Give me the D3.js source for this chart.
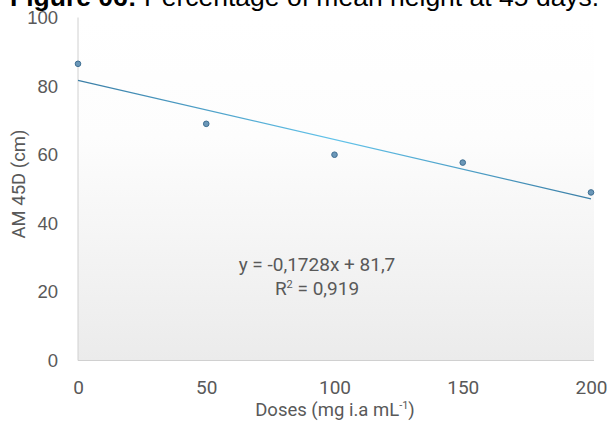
<!DOCTYPE html>
<html><head><meta charset="utf-8">
<script src="https://cdn.jsdelivr.net/npm/d3@7"></script>
<style>body{margin:0;background:#fff}svg{display:block}</style>
</head><body>
<script>
const doses = [0, 50, 100, 150, 200];
const heights = [86.5, 69, 60, 57.7, 49];
const xTicks = [0, 50, 100, 150, 200];
const yTicks = [0, 20, 40, 60, 80, 100];
const slope = -0.1728, intercept = 81.7;
const eqLabel = "y = -0,1728x + 81,7";
const r2Label = " = 0,919";

const W = 609, H = 421;
const svg = d3.select("body").append("svg").attr("width", W).attr("height", H);
const x = d3.scaleLinear().domain([0, 200]).range([78, 591]);
const y = d3.scaleLinear().domain([0, 100]).range([360.5, 17.5]);

const defs = svg.append("defs");
const bg = defs.append("linearGradient").attr("id","bg").attr("x1",0).attr("y1",0).attr("x2",0).attr("y2",1);
bg.append("stop").attr("offset","0%").attr("stop-color","#ffffff");
bg.append("stop").attr("offset","35%").attr("stop-color","#fdfdfd");
bg.append("stop").attr("offset","100%").attr("stop-color","#ebebeb");
const lg = defs.append("linearGradient").attr("id","tl").attr("gradientUnits","userSpaceOnUse")
  .attr("x1", x(0)).attr("y1", 0).attr("x2", x(200)).attr("y2", 0);
lg.append("stop").attr("offset","0%").attr("stop-color","#3b7ea6");
lg.append("stop").attr("offset","50%").attr("stop-color","#62c3ea");
lg.append("stop").attr("offset","100%").attr("stop-color","#3b7ea6");

// plot background
svg.append("rect").attr("x", x(0)).attr("y", y(100)).attr("width", x(200) + 3 - x(0)).attr("height", y(0) - y(100))
  .attr("fill", "url(#bg)");

// title (cut off at top, as in the source figure)
const title = svg.append("text").attr("x", 10).attr("y", 6).attr("font-family","Liberation Sans, Arial, sans-serif")
  .attr("font-size", 26.5).attr("fill", "#000");
title.append("tspan").attr("font-weight","bold").text("Figure 06:");
title.append("tspan").text(" Percentage of mean height at 45 days.");

// axes lines
svg.append("line").attr("x1", x(0)).attr("x2", x(0)).attr("y1", y(100)).attr("y2", y(0)).attr("stroke","#d0d0d0");
svg.append("line").attr("x1", x(0)).attr("x2", x(200)+3).attr("y1", y(0)).attr("y2", y(0)).attr("stroke","#d0d0d0");

// y ticks
const yAxis = d3.axisLeft(y).tickValues(yTicks).tickSize(0).tickPadding(20);
const gy = svg.append("g").attr("transform", `translate(${x(0)},0)`).call(yAxis);
gy.select(".domain").remove();
gy.selectAll("text").attr("font-family","Liberation Sans, Arial, sans-serif").attr("font-size", 18.5).attr("fill","#595959");

// x ticks
const xAxis = d3.axisBottom(x).tickValues(xTicks).tickSize(0).tickPadding(0);
const gx = svg.append("g").attr("transform", `translate(0,${y(0)+20})`).call(xAxis);
gx.select(".domain").remove();
gx.selectAll("text").attr("font-family","Roboto, sans-serif").attr("font-size", 19).attr("fill","#595959").attr("dy","0.71em");

// axis titles
const xt = svg.append("text").attr("x", 335).attr("y", 416).attr("text-anchor","middle")
  .attr("font-family","Roboto, sans-serif").attr("font-size", 18.5).attr("fill","#595959");
xt.append("tspan").text("Doses (mg i.a mL");
xt.append("tspan").attr("font-size", 11).attr("dy", -7).text("-1");
xt.append("tspan").attr("dy", 7).text(")");

svg.append("text").attr("transform", `translate(25,184) rotate(-90)`).attr("text-anchor","middle")
  .attr("font-family","Roboto, sans-serif").attr("font-size", 18.5).attr("fill","#595959").text("AM 45D (cm)");

// trendline
svg.append("line").attr("x1", x(0)).attr("y1", y(intercept)).attr("x2", x(200)).attr("y2", y(intercept + slope*200))
  .attr("stroke","url(#tl)").attr("stroke-width", 1.3);

// points
svg.selectAll("circle.pt").data(doses.map((d,i)=>[d, heights[i]])).join("circle").attr("class","pt")
  .attr("cx", d=>x(d[0])).attr("cy", d=>y(d[1])).attr("r", 2.8)
  .attr("fill","#6b97b8").attr("stroke","#3e6e92").attr("stroke-width", 1);

// equation
svg.append("text").attr("x", 317).attr("y", 271).attr("text-anchor","middle")
  .attr("font-family","Roboto, sans-serif").attr("font-size", 19).attr("fill","#595959").text(eqLabel);
const r2 = svg.append("text").attr("x", 317).attr("y", 295).attr("text-anchor","middle")
  .attr("font-family","Roboto, sans-serif").attr("font-size", 19).attr("fill","#595959");
r2.append("tspan").text("R");
r2.append("tspan").attr("font-size", 11).attr("dy", -7).text("2");
r2.append("tspan").attr("dy", 7).text(r2Label);
</script>
</body></html>
